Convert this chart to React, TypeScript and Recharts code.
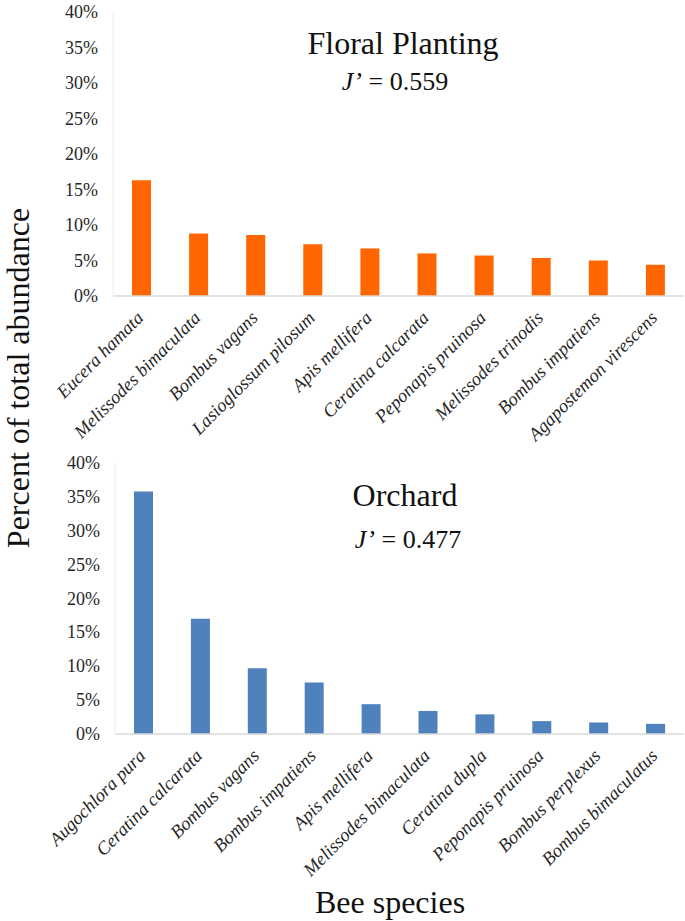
import React from "react";
import { BarChart, Bar, XAxis, YAxis } from "recharts";

const floralSpecies = [
  "Eucera hamata",
  "Melissodes bimaculata",
  "Bombus vagans",
  "Lasioglossum pilosum",
  "Apis mellifera",
  "Ceratina calcarata",
  "Peponapis pruinosa",
  "Melissodes trinodis",
  "Bombus impatiens",
  "Agapostemon virescens",
];
const floralValues = [16.3, 8.8, 8.6, 7.3, 6.7, 6.0, 5.7, 5.35, 5.0, 4.4];

const orchardSpecies = [
  "Augochlora pura",
  "Ceratina calcarata",
  "Bombus vagans",
  "Bombus impatiens",
  "Apis mellifera",
  "Melissodes bimaculata",
  "Ceratina dupla",
  "Peponapis pruinosa",
  "Bombus perplexus",
  "Bombus bimaculatus",
];
const orchardValues = [35.8, 17.0, 9.7, 7.6, 4.4, 3.4, 2.9, 1.9, 1.7, 1.5];

const yTicks = [0, 5, 10, 15, 20, 25, 30, 35, 40];

const floralData = floralSpecies.map((name, i) => ({ name, value: floralValues[i] }));
const orchardData = orchardSpecies.map((name, i) => ({ name, value: orchardValues[i] }));

const FONT = "'Liberation Serif', 'Times New Roman', Times, serif";

const RotTick = (props: any) => {
  const { x, y, payload } = props;
  const ax = x + 3;
  const ay = y + 23;
  return (
    <text
      x={ax}
      y={ay}
      transform={`rotate(-45, ${ax}, ${ay})`}
      textAnchor="end"
      fill="#262626"
      style={{ fontFamily: FONT, fontStyle: "italic", fontSize: 18.5 }}
    >
      {payload.value}
    </text>
  );
};

const YTick = (props: any) => {
  const { x, y, payload } = props;
  return (
    <text
      x={x}
      y={y}
      dy={6}
      textAnchor="end"
      fill="#262626"
      style={{ fontFamily: FONT, fontSize: 18 }}
    >
      {`${payload.value}%`}
    </text>
  );
};

function Panel(props: {
  data: { name: string; value: number }[];
  color: string;
  top: number;
  height: number;
  marginTop: number;
  xAxisHeight: number;
  yAxisWidth: number;
}) {
  const { data, color, top, height, marginTop, xAxisHeight, yAxisWidth } = props;
  return (
    <div style={{ position: "absolute", left: 0, top, width: 685, height }}>
      <BarChart
        width={685}
        height={height}
        data={data}
        margin={{ top: marginTop, right: 1, left: 0, bottom: 0 }}
        barCategoryGap="33%"
        style={{ overflow: "visible" }}
      >
        <XAxis
          dataKey="name"
          interval={0}
          height={xAxisHeight}
          tickLine={false}
          tickSize={0}
          tickMargin={0}
          tick={<RotTick />}
          axisLine={{ stroke: "#d9d9d9", strokeWidth: 1.5 }}
        />
        <YAxis
          width={yAxisWidth}
          domain={[0, 40]}
          ticks={yTicks}
          interval={0}
          tickLine={false}
          tickSize={0}
          tickMargin={15}
          tick={<YTick />}
          axisLine={{ stroke: "#eeeee6", strokeWidth: 1 }}
        />
        <Bar dataKey="value" fill={color} barSize={19} isAnimationActive={false} />
      </BarChart>
    </div>
  );
}

const textBase: React.CSSProperties = {
  position: "absolute",
  lineHeight: 1,
  whiteSpace: "nowrap",
  fontFamily: FONT,
};

export default function App() {
  return (
    <div
      style={{
        position: "absolute",
        left: 0,
        top: 0,
        width: 685,
        height: 921,
        background: "#fff",
        fontFamily: FONT,
        color: "#111",
        overflow: "hidden",
      }}
    >
      <Panel data={floralData} color="#FF6600" top={0} height={480} marginTop={12} xAxisHeight={184} yAxisWidth={113} />
      <Panel data={orchardData} color="#4F81BD" top={440} height={481} marginTop={23} xAxisHeight={187} yAxisWidth={115} />

      <div style={{ ...textBase, left: 403, top: 53, transform: "translate(-50%, -80%)", fontSize: 32 }}>
        Floral Planting
      </div>
      <div style={{ ...textBase, left: 395, top: 90, transform: "translate(-50%, -80%)", fontSize: 26 }}>
        <i>J’</i> = 0.559
      </div>
      <div style={{ ...textBase, left: 405, top: 505, transform: "translate(-50%, -80%)", fontSize: 32 }}>
        Orchard
      </div>
      <div style={{ ...textBase, left: 408, top: 548, transform: "translate(-50%, -80%)", fontSize: 26 }}>
        <i>J’</i> = 0.477
      </div>
      <div style={{ ...textBase, left: 390, top: 912, transform: "translate(-50%, -80%)", fontSize: 32 }}>
        Bee species
      </div>
      <div
        style={{
          ...textBase,
          left: 18,
          top: 378,
          transform: "translate(-50%, -50%) rotate(-90deg)",
          fontSize: 32,
        }}
      >
        Percent of total abundance
      </div>
    </div>
  );
}
